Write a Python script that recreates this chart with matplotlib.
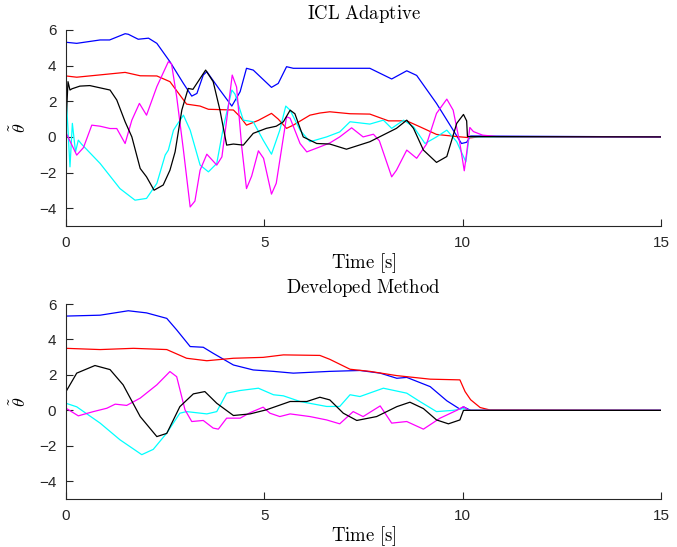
import matplotlib
matplotlib.use("Agg")
import matplotlib.pyplot as plt

plt.rcParams['mathtext.fontset'] = 'cm'
plt.rcParams['font.family'] = ['Liberation Sans', 'DejaVu Sans']

# ---------------- ICL Adaptive (top) ----------------
top_blue_t = [0, 0.27, 0.86, 1.1, 1.49, 1.57, 1.82, 2.08, 2.29, 2.62, 2.96, 3.17, 3.3, 3.46, 3.55, 3.88, 4.18, 4.39, 4.55, 4.72, 5.18, 5.35, 5.56, 5.73, 6.65, 7.66, 8.21, 8.59, 8.84, 9.34, 9.76, 9.97, 10.1, 10.2, 15]
top_blue_y = [5.31, 5.25, 5.44, 5.44, 5.79, 5.76, 5.48, 5.54, 5.25, 4.22, 3.0, 2.29, 2.44, 3.47, 3.66, 2.63, 1.73, 2.54, 3.85, 3.75, 2.78, 3.0, 3.94, 3.85, 3.85, 3.85, 3.25, 3.71, 3.45, 1.88, 0.38, -0.37, -0.3, 0.05, 0]

top_red_t = [0, 0.27, 0.86, 1.49, 1.87, 2.29, 2.62, 2.87, 3.04, 3.38, 3.59, 4.22, 4.39, 4.55, 4.85, 5.18, 5.35, 5.56, 5.73, 6.15, 6.4, 6.65, 7.16, 7.66, 8.13, 8.59, 8.92, 9.34, 9.85, 10.2, 10.4, 15]
top_red_y = [3.42, 3.35, 3.48, 3.62, 3.43, 3.42, 3.1, 2.35, 1.84, 1.73, 1.55, 1.51, 1.13, 0.66, 0.93, 1.32, 1.0, 0.48, 0.66, 1.22, 1.34, 1.41, 1.3, 1.28, 0.9, 0.9, 0.57, 0.14, 0.02, -0.05, 0, 0]

top_black_t = [0, 0.05, 0.1, 0.15, 0.35, 0.6, 1.11, 1.28, 1.49, 1.66, 1.87, 2.03, 2.22, 2.45, 2.62, 2.75, 2.92, 3.08, 3.2, 3.52, 3.71, 3.88, 4.05, 4.22, 4.47, 4.72, 5.05, 5.3, 5.48, 5.65, 5.77, 5.98, 6.32, 6.65, 7.07, 7.66, 8.33, 8.59, 8.76, 9.01, 9.34, 9.6, 9.85, 10.02, 10.1, 10.12, 15]
top_black_y = [0.76, 3.1, 2.63, 2.7, 2.85, 2.88, 2.63, 2.07, 0.85, 0.0, -1.77, -2.24, -2.99, -2.7, -1.87, -0.84, 1.51, 2.72, 2.67, 3.75, 3.1, 1.51, -0.46, -0.4, -0.46, 0.2, 0.48, 0.6, 0.85, 1.5, 1.3, 0.0, -0.37, -0.4, -0.69, -0.27, 0.48, 0.94, 0.48, -0.74, -1.43, -1.1, 0.76, 1.26, 0.9, 0.02, 0]

top_mag_t = [0, 0.27, 0.44, 0.65, 0.86, 1.11, 1.28, 1.49, 1.66, 1.85, 2.03, 2.29, 2.58, 2.66, 2.79, 2.96, 3.13, 3.25, 3.38, 3.55, 3.8, 3.93, 4.05, 4.19, 4.3, 4.43, 4.55, 4.68, 4.85, 4.98, 5.18, 5.3, 5.56, 5.65, 5.9, 6.07, 6.4, 6.65, 6.9, 7.2, 7.49, 7.75, 7.9, 8.21, 8.33, 8.59, 8.84, 9.09, 9.34, 9.6, 9.76, 9.93, 10.04, 10.1, 10.18, 10.27, 10.5, 10.85, 15]
top_mag_y = [0.23, -1.02, -0.6, 0.66, 0.6, 0.47, 0.47, -0.37, 0.94, 1.88, 1.22, 2.82, 4.22, 4.1, 2.25, -0.74, -3.93, -3.6, -1.87, -0.97, -1.58, -1.12, 0.94, 3.47, 2.8, -0.56, -2.9, -2.2, -0.78, -1.2, -3.21, -2.6, 1.13, 1.05, -0.37, -0.84, -0.56, -0.34, 0.0, 0.51, 0.0, 0.15, -0.22, -2.24, -1.87, -0.74, -1.2, -0.4, 1.32, 2.12, 1.5, -0.37, -1.9, -0.9, 0.53, 0.3, 0.1, 0.02, 0]

top_cyan_t = [0, 0.1, 0.16, 0.24, 0.31, 0.39, 0.86, 1.36, 1.74, 2.03, 2.29, 2.5, 2.58, 2.71, 2.79, 2.96, 3.13, 3.38, 3.59, 3.8, 3.97, 4.18, 4.26, 4.47, 4.72, 4.97, 5.18, 5.39, 5.54, 5.65, 5.9, 6.15, 6.57, 6.9, 7.16, 7.66, 8.0, 8.21, 8.51, 8.76, 9.05, 9.34, 9.6, 9.85, 10.08, 10.16, 15]
top_cyan_y = [2.44, -1.68, 0.76, -0.84, -0.18, -0.4, -1.49, -2.9, -3.55, -3.45, -2.61, -1.02, -0.74, 0.38, 0.66, 1.22, 0.38, -1.58, -1.96, -1.49, 0.57, 2.63, 2.4, 0.94, 0.85, -0.18, -0.97, 0.38, 1.73, 1.5, 0.38, -0.27, 0.0, 0.28, 0.85, 0.72, 0.94, 0.48, 0.94, 0.57, -0.37, 0.0, 0.38, -0.27, -1.4, 0.0, 0]

# ---------------- Developed Method (bottom) ----------------
bot_blue_t = [0, 0.86, 1.57, 2.03, 2.54, 2.79, 3.13, 3.46, 3.71, 4.22, 4.72, 5.23, 5.73, 6.65, 7.41, 7.92, 8.34, 8.59, 9.18, 9.6, 9.93, 10.02, 10.2, 15]
bot_blue_y = [5.32, 5.37, 5.62, 5.5, 5.19, 4.54, 3.6, 3.56, 3.22, 2.56, 2.28, 2.2, 2.1, 2.2, 2.25, 2.1, 1.81, 1.86, 1.34, 0.54, 0.07, 0.2, 0.0, 0]

bot_red_t = [0, 0.86, 1.7, 2.54, 3.04, 3.55, 4.22, 4.97, 5.48, 6.4, 6.65, 7.16, 7.66, 8.34, 9.18, 9.93, 10.06, 10.2, 10.44, 10.69, 15]
bot_red_y = [3.5, 3.43, 3.5, 3.43, 2.94, 2.8, 2.94, 2.99, 3.13, 3.1, 2.88, 2.32, 2.2, 1.96, 1.76, 1.72, 1.06, 0.6, 0.16, 0.02, 0]

bot_black_t = [0, 0.27, 0.73, 1.11, 1.44, 1.87, 2.29, 2.54, 2.87, 3.21, 3.5, 3.8, 4.22, 4.64, 5.05, 5.65, 6.07, 6.4, 6.65, 6.99, 7.33, 7.83, 8.34, 8.67, 9.01, 9.34, 9.64, 9.93, 10.02, 15]
bot_black_y = [1.06, 2.1, 2.53, 2.3, 1.44, -0.35, -1.48, -1.3, 0.21, 0.93, 1.06, 0.4, -0.29, -0.2, 0.03, 0.5, 0.5, 0.74, 0.59, -0.16, -0.57, -0.35, 0.21, 0.46, 0.1, -0.54, -0.76, -0.54, 0.0, 0]

bot_mag_t = [0, 0.31, 0.69, 1.03, 1.24, 1.53, 1.87, 2.29, 2.62, 2.79, 3.0, 3.17, 3.46, 3.71, 3.84, 4.05, 4.39, 4.64, 4.97, 5.14, 5.39, 5.65, 6.15, 6.57, 6.9, 7.24, 7.49, 7.92, 8.21, 8.59, 9.01, 9.43, 9.85, 10.02, 10.15, 15]
bot_mag_y = [0.12, -0.31, -0.07, 0.12, 0.35, 0.28, 0.69, 1.44, 2.19, 1.9, 0.03, -0.63, -0.57, -1.0, -1.06, -0.44, -0.44, -0.13, 0.18, -0.16, -0.35, -0.2, -0.35, -0.54, -0.76, -0.07, -0.35, 0.25, -0.72, -0.63, -1.06, -0.44, 0.0, 0.21, 0.0, 0]

bot_cyan_t = [0, 0.27, 0.86, 1.36, 1.91, 2.2, 2.54, 2.87, 3.04, 3.55, 3.8, 4.05, 4.39, 4.85, 5.23, 5.48, 5.9, 6.57, 6.9, 7.16, 7.41, 8.0, 8.59, 8.92, 9.34, 9.76, 10.02, 10.2, 15]
bot_cyan_y = [0.4, 0.2, -0.72, -1.66, -2.5, -2.2, -1.28, -0.16, -0.07, -0.2, -0.07, 0.97, 1.12, 1.25, 0.88, 0.82, 0.5, 0.22, 0.22, 0.88, 0.78, 1.25, 0.97, 0.5, -0.07, 0.0, 0.1, 0.0, 0]

titles = ['ICL Adaptive', 'Developed Method']
x_ticks = [0, 5, 10, 15]
y_ticks = [-4, -2, 0, 2, 4, 6]

BLUE, RED, CYAN, MAG, BLACK = '#0000ff', '#ff0000', '#00ffff', '#ff00ff', '#000000'

panels = [
    [(top_blue_t, top_blue_y, BLUE), (top_red_t, top_red_y, RED),
     (top_cyan_t, top_cyan_y, CYAN), (top_mag_t, top_mag_y, MAG),
     (top_black_t, top_black_y, BLACK)],
    [(bot_blue_t, bot_blue_y, BLUE), (bot_red_t, bot_red_y, RED),
     (bot_cyan_t, bot_cyan_y, CYAN), (bot_mag_t, bot_mag_y, MAG),
     (bot_black_t, bot_black_y, BLACK)],
]

fig = plt.figure(figsize=(6.77, 5.47), dpi=100)
rects = [[0.0975, 0.5868, 0.8789, 0.3584], [0.0975, 0.0878, 0.8789, 0.3564]]
axc = (0.15, 0.15, 0.15)

for rect, series, title in zip(rects, panels, titles):
    ax = fig.add_axes(rect)
    for t, y, c in series:
        ax.plot(t, y, color=c, lw=0.9)
    ax.set_xlim(0, 15)
    ax.set_ylim(-5, 6)
    ax.set_xticks(x_ticks)
    ax.set_yticks(y_ticks)
    ax.spines['top'].set_visible(False)
    ax.spines['right'].set_visible(False)
    for s in ('left', 'bottom'):
        ax.spines[s].set_color(axc)
        ax.spines[s].set_linewidth(0.8)
    ax.tick_params(direction='in', length=5, width=0.8, color=axc,
                   labelcolor=axc, labelsize=11, pad=7)
    ax.set_title(r'$\mathrm{' + title.replace(' ', r'\ ') + '}$', fontsize=13.5,
                 pad=8, color='black')
    ax.set_xlabel(r'$\mathrm{Time\ [s]}$', fontsize=13.5, labelpad=1)
    ax.set_ylabel(r'$\tilde{\theta}$', fontsize=13)
    ax.yaxis.set_label_coords(-0.06, 0.5)

fig.savefig('out.png', dpi=100)
